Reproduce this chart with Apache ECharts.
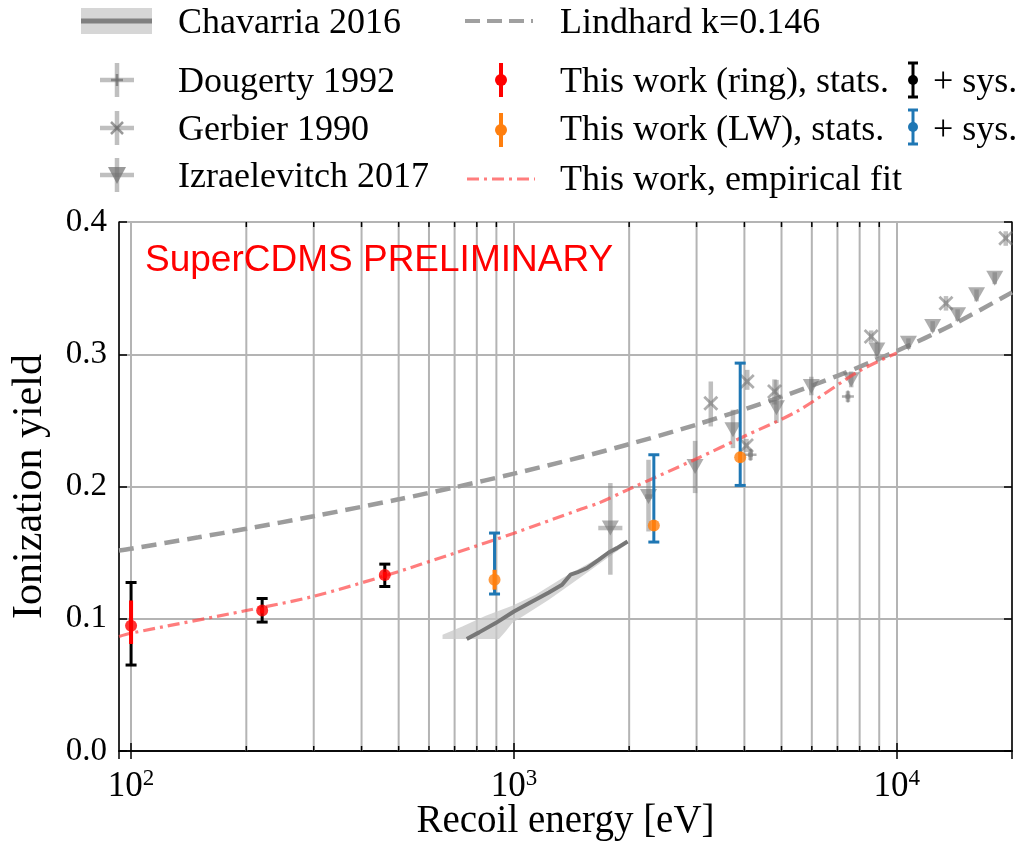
<!DOCTYPE html>
<html><head><meta charset="utf-8">
<script src="https://cdn.jsdelivr.net/npm/echarts@6/dist/echarts.min.js"></script>
<style>html,body{margin:0;padding:0;background:#fff}#c{width:1028px;height:844px}</style>
</head><body><div id="c"></div>
<script>
// ---------- data ----------
const majorTickE = [100, 1000, 10000];
const minorTickE = [200,300,400,500,600,700,800,900,2000,3000,4000,5000,6000,7000,8000,9000];

const lindhardE = [93,100,150,200,300,500,700,1000,1500,2000,3000,5000,7000,10000,14000,20000];
const lindhardY = [0.1516,0.1530,0.1616,0.1680,0.1775,0.1903,0.1994,0.2097,0.2223,0.2320,0.2468,0.2679,0.2837,0.3025,0.3224,0.3468];

const fitE = [93,100,200,300,470,700,1000,1500,1665,2000,3000,4000,5500,8000,10000];
const fitY = [0.0866,0.0891,0.1062,0.1170,0.1333,0.1496,0.1647,0.1829,0.1875,0.1980,0.2210,0.2380,0.2570,0.2875,0.3010];

const chavE = [753,811,896,1000,1116,1234,1336,1405,1462,1552,1665,1768,1858,1981];
const chavY = [0.0847,0.0897,0.0967,0.1055,0.1131,0.1199,0.1257,0.1333,0.1350,0.1383,0.1446,0.1501,0.1534,0.1584];
const chavBandUpperE = [651,733,844,990,1139,1336,1448,1600,1733,1877,1981];
const chavBandUpperY = [0.0879,0.0942,0.1023,0.1098,0.1181,0.1307,0.1363,0.1433,0.1491,0.1552,0.1590];
const chavBandLowerE = [1981,1768,1568,1390,1234,1094,990,951,914,651];
const chavBandLowerY = [0.1567,0.1466,0.1358,0.1249,0.1144,0.1048,0.0968,0.0904,0.0847,0.0847];

const ringE = [100, 220, 460];
const ringY = [0.0947, 0.1063, 0.1330];
const ringStatLo = [0.0809, 0.1040, 0.1305];
const ringStatHi = [0.1138, 0.1086, 0.1355];
const ringSysLo = [0.0650, 0.0975, 0.1244];
const ringSysHi = [0.1274, 0.1153, 0.1413];

const lwE = [890, 2320, 3900];
const lwY = [0.1295, 0.1705, 0.2222];
const lwStatLo = [0.1220, 0.1665, 0.2182];
const lwStatHi = [0.1370, 0.1745, 0.2262];
const lwSysLo = [0.1187, 0.1580, 0.2008];
const lwSysHi = [0.1648, 0.2240, 0.2933];

const izrE = [1786,2247,2973,3734,4850,5981,7603,8873,10728,12410,14418,16160,18030];
const izrY = [0.1686,0.1924,0.2151,0.2429,0.2595,0.2756,0.2807,0.3033,0.3084,0.3210,0.3298,0.3449,0.3575];
const izrYLo = [0.1333,0.1660,0.1950,0.2290,0.2480,0.2690,0.2750,0.2970,0.3040,0.3170,0.3250,0.3400,0.3530];
const izrYHi = [0.2026,0.2202,0.2345,0.2580,0.2806,0.2830,0.2870,0.3090,0.3120,0.3250,0.3340,0.3490,0.3620];
const izrXLo = [1661,2200,2973,3734,4850,5981,7603,8873,10728,12410,14418,16160,18030];
const izrXHi = [1920,2300,2973,3734,4850,5981,7603,8873,10728,12410,14418,16160,18030];

const gerE = [3268,4069,4794,4050,8574,13446,19260];
const gerY = [0.2630,0.2794,0.2718,0.2310,0.3134,0.3386,0.3878];
const gerYLo = [0.2454,0.2731,0.2620,0.2260,0.3090,0.3330,0.3820];
const gerYHi = [0.2794,0.2882,0.2810,0.2360,0.3180,0.3440,0.3930];

const dougE = [4150, 7455];
const dougY = [0.2240, 0.2680];
const dougYLo = [0.2200, 0.2640];
const dougYHi = [0.2280, 0.2720];

// ---------- helpers ----------
const zip = (a, b) => a.map((v, i) => [v, b[i]]);
const SERIF = '"Liberation Serif", "DejaVu Serif", serif';
const GRAYBAR = 'rgba(128,128,128,0.5)';
const GRAYMK = 'rgba(110,110,110,0.7)';

function ln(x1, y1, x2, y2, stroke, w) {
  return { type: 'line', shape: { x1: x1, y1: y1, x2: x2, y2: y2 }, style: { stroke: stroke, lineWidth: w } };
}
function errRender(color, width, cap) {
  return function (params, api) {
    const x = api.value(0), lo = api.value(1), hi = api.value(2);
    const p1 = api.coord([x, lo]), p2 = api.coord([x, hi]);
    const ch = [ln(p1[0], p1[1], p2[0], p2[1], color, width)];
    if (cap) {
      ch.push(ln(p1[0] - cap, p1[1], p1[0] + cap, p1[1], color, width));
      ch.push(ln(p2[0] - cap, p2[1], p2[0] + cap, p2[1], color, width));
    }
    return { type: 'group', children: ch };
  };
}
function grayErrRender(params, api) {
  const x = api.value(0), y = api.value(1), lo = api.value(2), hi = api.value(3), xl = api.value(4), xh = api.value(5);
  const p1 = api.coord([x, lo]), p2 = api.coord([x, hi]);
  const ch = [ln(p1[0], p1[1], p2[0], p2[1], GRAYBAR, 4.5)];
  if (xh > xl) {
    const q1 = api.coord([xl, y]), q2 = api.coord([xh, y]);
    ch.push(ln(q1[0], q1[1], q2[0], q2[1], GRAYBAR, 4.5));
  }
  return { type: 'group', children: ch };
}

const PLUS = 'path://M4,0 H6 V4 H10 V6 H6 V10 H4 V6 H0 V4 H4 Z';
const XMARK = 'path://M1.3,0 L5,3.7 L8.7,0 L10,1.3 L6.3,5 L10,8.7 L8.7,10 L5,6.3 L1.3,10 L0,8.7 L3.7,5 L0,1.3 Z';

const L = 119, T = 222, W = 893, H = 529;

const chart = echarts.init(document.getElementById('c'), null, { renderer: 'canvas' });

const xAxisBase = {
  type: 'log', logBase: 10, min: 93, max: 20000,
  axisLine: { show: true, lineStyle: { color: '#000', width: 1.5 } },
  axisTick: { show: true, inside: true, length: 8, lineStyle: { color: '#000', width: 1.5 } },
  minorTick: { show: false }, minorSplitLine: { show: false }
};
const yAxisBase = {
  type: 'value', min: 0, max: 0.4, interval: 0.1,
  axisLine: { show: true, lineStyle: { color: '#000', width: 1.5 } },
  axisTick: { show: true, inside: true, length: 8, lineStyle: { color: '#000', width: 1.5 } }
};

function legendCross(cx, cy) {
  return [ln(cx, cy - 17, cx, cy + 17, GRAYBAR, 4.5), ln(cx - 17, cy, cx + 17, cy, GRAYBAR, 4.5)];
}
function legendText(x, y, t) {
  return { type: 'text', x: x, y: y + 3, style: { text: t, font: '36px ' + SERIF, fill: '#000', verticalAlign: 'middle', align: 'left' } };
}
function legendErr(cx, cy, color, cap, dot) {
  const a = [ln(cx, cy - 17, cx, cy + 17, color, cap ? 3 : 4)];
  if (cap) {
    a.push(ln(cx - 5, cy - 17, cx + 5, cy - 17, color, 3));
    a.push(ln(cx - 5, cy + 17, cx + 5, cy + 17, color, 3));
  }
  a.push({ type: 'circle', shape: { cx: cx, cy: cy, r: dot }, style: { fill: color } });
  return a;
}

const graphics = [].concat(
  [{ type: 'rect', shape: { x: 81, y: 8, width: 71, height: 26 }, style: { fill: '#d6d6d6' } },
   ln(81, 21, 152, 21, '#808080', 5),
   legendText(178, 21, 'Chavarria 2016'),
   { type: 'line', shape: { x1: 465, y1: 21, x2: 533, y2: 21 }, style: { stroke: '#a0a0a0', lineWidth: 4, lineDash: [15, 7] } },
   legendText(560, 21, 'Lindhard k=0.146')],
  legendCross(117, 80),
  [ln(111, 80, 123, 80, GRAYMK, 2.5), ln(117, 74, 117, 86, GRAYMK, 2.5),
   legendText(178, 80, 'Dougerty 1992')],
  legendCross(117, 128),
  [ln(111, 122, 123, 134, GRAYMK, 2.5), ln(111, 134, 123, 122, GRAYMK, 2.5),
   legendText(178, 128, 'Gerbier 1990')],
  legendCross(117, 175),
  [{ type: 'polygon', shape: { points: [[108, 167], [126, 167], [117, 184]] }, style: { fill: GRAYMK } },
   legendText(178, 175, 'Izraelevitch 2017')],
  legendErr(501, 80, '#ff0000', false, 6),
  [legendText(560, 80, 'This work (ring), stats.')],
  legendErr(913, 80, '#000000', true, 5),
  [legendText(933, 80, '+ sys.')],
  legendErr(501, 130, '#ff7f0e', false, 6),
  [legendText(560, 128, 'This work (LW), stats.')],
  legendErr(913, 127, '#1f77b4', true, 5),
  [legendText(933, 128, '+ sys.')],
  [{ type: 'line', shape: { x1: 467, y1: 179, x2: 535, y2: 179 }, style: { stroke: 'rgba(255,70,70,0.7)', lineWidth: 3, lineDash: [12, 5, 3, 5] } },
   legendText(560, 178, 'This work, empirical fit')],
  [{ type: 'text', x: 145, y: 261, z: 100, style: { text: 'SuperCDMS PRELIMINARY', font: '37px "Liberation Sans", Arial, sans-serif', fill: '#ff0000', verticalAlign: 'middle' } }]
);

const option = {
  animation: false,
  backgroundColor: '#fff',
  grid: { left: L, top: T, width: W, height: H, containLabel: false, outerBoundsMode: 'none' },
  xAxis: [
    Object.assign({}, xAxisBase, {
      position: 'bottom',
      name: 'Recoil energy [eV]', nameLocation: 'middle', nameGap: 51, nameMoveOverlap: false,
      nameTextStyle: { fontFamily: SERIF, fontSize: 39, color: '#000' },
      axisLabel: {
        show: true, margin: 16, color: '#000', showMinLabel: false, showMaxLabel: false,
        formatter: function (v) {
          const e = Math.log10(v), r = Math.round(e);
          if (Math.abs(e - r) > 1e-6) return '';
          return '{b|10}{s|' + r + '}';
        },
        rich: {
          b: { fontFamily: SERIF, fontSize: 35, color: '#000' },
          s: { fontFamily: SERIF, fontSize: 23, color: '#000', padding: [0, 0, 16, 0] }
        }
      },
      splitLine: { show: true, lineStyle: { color: '#b4b4b4', width: 2 } }
    }),
    Object.assign({}, xAxisBase, { position: 'top', axisLabel: { show: false }, splitLine: { show: false } })
  ],
  yAxis: [
    Object.assign({}, yAxisBase, {
      position: 'left',
      name: 'Ionization yield', nameLocation: 'middle', nameGap: 68, nameMoveOverlap: false,
      nameTextStyle: { fontFamily: SERIF, fontSize: 42, color: '#000' },
      axisLabel: { show: true, margin: 12, color: '#000', fontFamily: SERIF, fontSize: 33, formatter: v => v.toFixed(1) },
      splitLine: { show: true, lineStyle: { color: '#b4b4b4', width: 2 } }
    }),
    Object.assign({}, yAxisBase, { position: 'right', axisLabel: { show: false }, splitLine: { show: false } })
  ],
  graphic: graphics,
  series: [
    { // minor vertical grid lines
      type: 'custom', name: 'minorGrid', xAxisIndex: 0, yAxisIndex: 0, z: 1, silent: true,
      data: minorTickE.map(v => [v]),
      encode: { x: 0 },
      renderItem: function (params, api) {
        const x = api.value(0);
        const a = api.coord([x, 0]), b = api.coord([x, 0.4]);
        return ln(a[0], a[1], b[0], b[1], '#b4b4b4', 2);
      }
    },
    { // minor ticks top & bottom
      type: 'custom', name: 'minorTicks', xAxisIndex: 0, yAxisIndex: 0, z: 20, silent: true, clip: false,
      data: minorTickE.map(v => [v]),
      encode: { x: 0 },
      renderItem: function (params, api) {
        const x = api.value(0);
        const a = api.coord([x, 0]), b = api.coord([x, 0.4]);
        return { type: 'group', children: [
          ln(a[0], a[1], a[0], a[1] - 5, '#000', 1.5),
          ln(b[0], b[1], b[0], b[1] + 5, '#000', 1.5)
        ] };
      }
    },
    { // Chavarria band
      type: 'custom', name: 'Chavarria band', z: 3, silent: true,
      data: zip(chavBandUpperE.concat(chavBandLowerE), chavBandUpperY.concat(chavBandLowerY)),
      encode: { x: 0, y: 1 },
      renderItem: function (params, api) {
        if (params.dataIndex !== 0) return null;
        const pts = [];
        for (let i = 0; i < chavBandUpperE.length; i++) pts.push(api.coord([chavBandUpperE[i], chavBandUpperY[i]]));
        for (let i = 0; i < chavBandLowerE.length; i++) pts.push(api.coord([chavBandLowerE[i], chavBandLowerY[i]]));
        return { type: 'polygon', shape: { points: pts }, style: { fill: 'rgba(200,200,200,0.75)' } };
      }
    },
    { type: 'line', name: 'Chavarria 2016', z: 4, data: zip(chavE, chavY), symbol: 'none', lineStyle: { color: '#777777', width: 4 } },
    { type: 'line', name: 'Lindhard k=0.146', z: 5, data: zip(lindhardE, lindhardY), symbol: 'none', smooth: 0.3,
      lineStyle: { color: '#9c9c9c', width: 4.5, type: [15, 8] } },
    { type: 'custom', name: 'Izr err', z: 6, data: izrE.map((e, i) => [e, izrY[i], izrYLo[i], izrYHi[i], izrXLo[i], izrXHi[i]]), encode: { x: 0, y: 1 }, renderItem: grayErrRender },
    { type: 'custom', name: 'Ger err', z: 6, data: gerE.map((e, i) => [e, gerY[i], gerYLo[i], gerYHi[i], e, e]), encode: { x: 0, y: 1 }, renderItem: grayErrRender },
    { type: 'custom', name: 'Doug err', z: 6, data: dougE.map((e, i) => [e, dougY[i], dougYLo[i], dougYHi[i], e * 0.985, e * 1.015]), encode: { x: 0, y: 1 }, renderItem: grayErrRender },
    { type: 'scatter', name: 'Izraelevitch 2017', z: 7, data: zip(izrE, izrY), symbol: 'triangle', symbolRotate: 180, symbolSize: [17, 15], itemStyle: { color: GRAYMK } },
    { type: 'scatter', name: 'Gerbier 1990', z: 7, data: zip(gerE, gerY), symbol: XMARK, symbolSize: 15, itemStyle: { color: GRAYMK } },
    { type: 'scatter', name: 'Dougerty 1992', z: 7, data: zip(dougE, dougY), symbol: PLUS, symbolSize: 12, itemStyle: { color: GRAYMK } },
    { type: 'line', name: 'This work, empirical fit', z: 8, data: zip(fitE, fitY), symbol: 'none', smooth: 0.3,
      lineStyle: { color: 'rgba(255,70,70,0.7)', width: 3.2, type: [12, 5, 3, 5] } },
    { type: 'custom', name: 'ring sys', z: 9, data: ringE.map((e, i) => [e, ringSysLo[i], ringSysHi[i]]), encode: { x: 0, y: [1, 2] }, renderItem: errRender('#000000', 3, 5.5) },
    { type: 'custom', name: 'ring stat', z: 10, data: ringE.map((e, i) => [e, ringStatLo[i], ringStatHi[i]]), encode: { x: 0, y: [1, 2] }, renderItem: errRender('#ff0000', 4, 0) },
    { type: 'scatter', name: 'This work (ring)', z: 11, data: zip(ringE, ringY), symbol: 'circle', symbolSize: 12, itemStyle: { color: '#ff0000' } },
    { type: 'custom', name: 'LW sys', z: 9, data: lwE.map((e, i) => [e, lwSysLo[i], lwSysHi[i]]), encode: { x: 0, y: [1, 2] }, renderItem: errRender('#1f77b4', 3, 5.5) },
    { type: 'custom', name: 'LW stat', z: 10, data: lwE.map((e, i) => [e, lwStatLo[i], lwStatHi[i]]), encode: { x: 0, y: [1, 2] }, renderItem: errRender('#ff7f0e', 4, 0) },
    { type: 'scatter', name: 'This work (LW)', z: 11, data: zip(lwE, lwY), symbol: 'circle', symbolSize: 12, itemStyle: { color: '#ff7f0e' } }
  ]
};
chart.setOption(option);
</script>
</body></html>
